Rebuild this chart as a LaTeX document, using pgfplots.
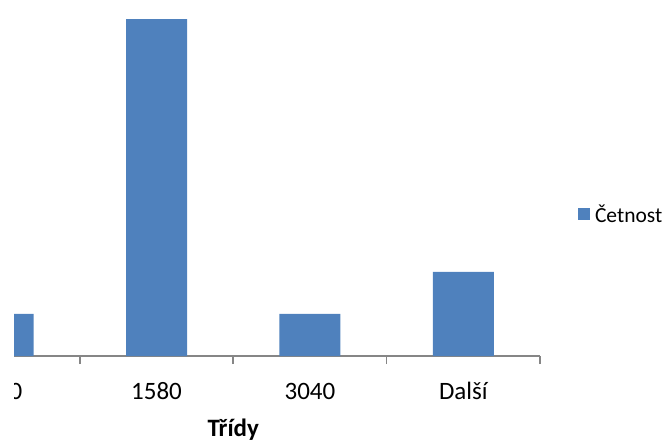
\documentclass[border=0pt]{standalone}
\usepackage{fontspec}
\setmainfont{Carlito}
\usepackage{pgfplots}
\pgfplotsset{compat=1.18}
\definecolor{barblue}{HTML}{4F81BD}
\definecolor{axisgray}{HTML}{868686}
\begin{document}
\begin{tikzpicture}
% picture frame and visible window of the histogram
\useasboundingbox (0pt,0pt) rectangle (666pt,447pt);
\clip (14pt,0pt) rectangle (666pt,447pt);
\begin{scope}[overlay]
\begin{axis}[
  scale only axis,
  width=613.5pt, height=356pt,
  at={(-73.5pt,91pt)}, anchor=south west,
  xmin=-0.5, xmax=3.5, ymin=0, ymax=8.456,
  axis x line=bottom, axis y line=none,
  x axis line style={-, draw=axisgray, line width=1.6pt},
  ybar, bar width=61pt,
  xtick={0,1,2,3}, xticklabels={120,1580,3040,Další},
  major tick length=0pt,
  minor xtick={-0.5,0.5,1.5,2.5,3.5},
  minor tick length=8pt, tick align=outside,
  minor tick style={draw=axisgray, line width=1.6pt},
  xticklabel style={font=\fontsize{25}{30}\selectfont, anchor=base, yshift=-43pt, inner sep=0pt},
  xlabel={Třídy},
  xlabel style={font=\fontsize{25}{30}\selectfont\bfseries, at={(axis description cs:0.5,0)}, anchor=base, yshift=-80pt, inner sep=0pt},
  legend style={at={(axis description cs:1.062,0.399)}, anchor=west, draw=none, fill=none,
    font=\fontsize{21.5}{25}\selectfont, inner sep=0pt, outer sep=0pt},
  legend image code/.code={\fill[barblue] (0pt,-6pt) rectangle (12pt,6pt);},
  legend cell align=left,
]
\addplot[fill=barblue, draw=none] coordinates {(0,1) (1,8) (2,1) (3,2)};
\addlegendentry{\hspace{3pt}Četnost}
\end{axis}
\end{scope}
\end{tikzpicture}
\end{document}
